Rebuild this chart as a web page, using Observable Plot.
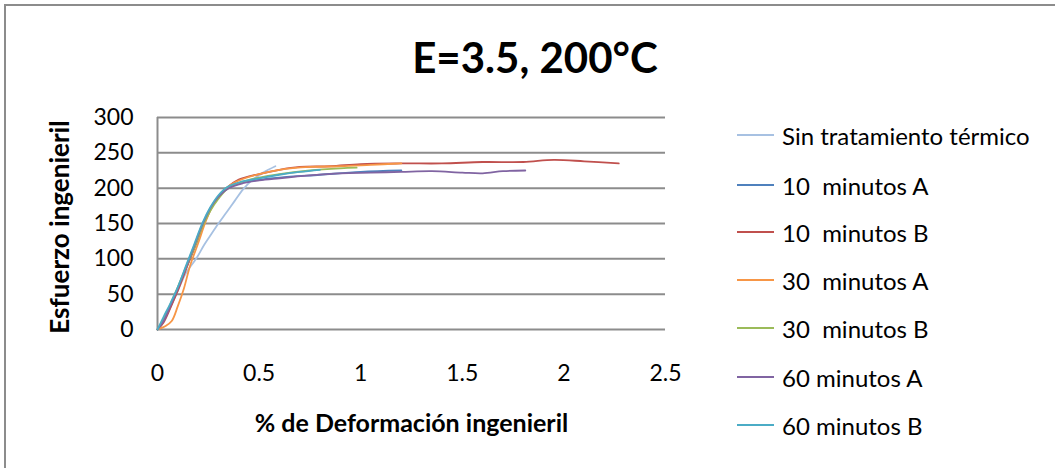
<!DOCTYPE html>
<html>
<head>
<meta charset="utf-8">
<script src="https://cdn.jsdelivr.net/npm/d3@7"></script>
<script src="https://cdn.jsdelivr.net/npm/@observablehq/plot@0.6"></script>
<style>
  html, body { margin: 0; padding: 0; background: #fff; }
  #wrap { position: relative; width: 1055px; height: 468px; overflow: hidden; font-family: Lato, "Open Sans", sans-serif; }
  #frame { position: absolute; left: 4px; top: 4px; width: 1200px; height: 600px; border-left: 2px solid #8c8c8c; border-top: 2px solid #8c8c8c; box-sizing: border-box; }
  #chart { position: absolute; left: 0; top: 0; }
  .title { position: absolute; left: 0; width: 1070px; top: 36px; text-align: center; font-weight: bold; font-size: 42px; color: #000; line-height: 1; }
  .xlab { position: absolute; left: 160px; width: 503px; top: 410px; text-align: center; font-weight: bold; font-size: 25px; line-height: 1; color: #000; }
  .ylab { position: absolute; left: 59px; top: 227px; transform: translate(-50%, -50%) rotate(-90deg); font-weight: bold; font-size: 26px; line-height: 1; white-space: nowrap; color: #000; }
  .leg { position: absolute; left: 737px; height: 30px; display: flex; align-items: center; white-space: pre; font-size: 24px; color: #000; }
  .leg span.sw { display: inline-block; width: 37px; height: 2px; margin-right: 8px; }
</style>
</head>
<body>
<div id="wrap">
  <div id="frame"></div>
  <div id="chart"></div>
  <div class="title">E=3.5, 200°C</div>
  <div class="xlab">% de Deformación ingenieril</div>
  <div class="ylab">Esfuerzo ingenieril</div>
  <div id="legend"></div>
</div>
<script>
// Series names and colours
const seriesNames = ["Sin tratamiento térmico", "10  minutos A", "10  minutos B", "30  minutos A", "30  minutos B", "60 minutos A", "60 minutos B"];
const seriesColors = ["#a7c1e2", "#4f81bd", "#c0504d", "#f79646", "#9bbb59", "#8064a2", "#4bacc6"];

// Each series: [% deformación, esfuerzo]
const sinTratamiento = [[0,0],[0.02,8],[0.06,30],[0.10,55],[0.14,80],[0.19,100],[0.23,120],[0.26,133],[0.30,150],[0.34,166],[0.38,182],[0.42,198],[0.46,210],[0.52,222],[0.58,231]];
const min10A = [[0,0],[0.03,12],[0.06,30],[0.09,50],[0.12,72],[0.16,100],[0.20,128],[0.23,150],[0.27,175],[0.30,188],[0.34,200],[0.40,207],[0.50,212],[0.60,215],[0.80,219],[1.00,223],[1.20,225]];
const min10B = [[0,0],[0.03,10],[0.07,35],[0.10,55],[0.14,85],[0.18,115],[0.22,145],[0.26,170],[0.30,188],[0.34,200],[0.40,212],[0.50,220],[0.60,226],[0.70,230],[0.85,231],[1.00,234],[1.20,235],[1.40,235],[1.60,237],[1.80,237],[1.95,240],[2.10,238],[2.27,235]];
const min30A = [[0,0],[0.04,5],[0.07,12],[0.10,33],[0.13,58],[0.16,90],[0.20,122],[0.24,155],[0.28,180],[0.32,195],[0.36,205],[0.42,213],[0.50,220],[0.60,226],[0.75,230],[0.90,231],[1.05,233],[1.20,235]];
const min30B = [[0,0],[0.03,15],[0.07,40],[0.10,60],[0.14,88],[0.18,115],[0.22,145],[0.26,168],[0.30,185],[0.34,198],[0.40,207],[0.50,215],[0.60,220],[0.75,225],[0.90,228],[0.98,229]];
const min60A = [[0,0],[0.03,12],[0.07,38],[0.10,58],[0.14,88],[0.18,118],[0.22,148],[0.26,172],[0.30,188],[0.35,200],[0.42,207],[0.50,211],[0.60,214],[0.75,218],[0.90,221],[1.05,222],[1.20,223],[1.35,224],[1.50,222],[1.60,221],[1.70,224],[1.81,225]];
const min60B = [[0,0],[0.03,18],[0.06,35],[0.10,60],[0.14,90],[0.18,120],[0.22,150],[0.26,173],[0.30,190],[0.34,201],[0.40,208],[0.50,214],[0.60,219],[0.70,223],[0.80,226]];

const xTicks = [0, 0.5, 1, 1.5, 2, 2.5];
const yTicks = [0, 50, 100, 150, 200, 250, 300];

const seriesData = [sinTratamiento, min10A, min10B, min30A, min30B, min60A, min60B];
const rows = seriesData.flatMap((arr, i) => arr.map(([x, y]) => ({x, y, name: seriesNames[i]})));

const chart = Plot.plot({
  width: 1055,
  height: 468,
  marginLeft: 157,
  marginRight: 390,
  marginTop: 117,
  marginBottom: 139,
  style: {fontFamily: "Lato, 'Open Sans', sans-serif", background: "transparent", color: "#000"},
  x: {domain: [0, 2.5]},
  y: {domain: [0, 300]},
  color: {domain: seriesNames, range: seriesColors},
  marks: [
    Plot.gridY(yTicks, {stroke: "#8c8c8c", strokeOpacity: 1, strokeWidth: 2}),
    Plot.ruleX([0], {stroke: "#8c8c8c", strokeWidth: 2}),
    Plot.line(rows, {x: "x", y: "y", z: "name", stroke: "name", strokeWidth: 1.8, curve: "catmull-rom"}),
    Plot.axisX(xTicks, {tickSize: 0, tickPadding: 35, fontSize: 23, label: null, tickFormat: d => String(d), fill: "#000"}),
    Plot.axisY(yTicks, {tickSize: 0, tickPadding: 24, fontSize: 23, label: null, tickFormat: d => String(d), fill: "#000"})
  ]
});
document.getElementById("chart").appendChild(chart);

const legend = document.getElementById("legend");
const rowCenters = [135, 185, 232, 280, 328, 377, 425];
seriesNames.forEach((n, i) => {
  const d = document.createElement("div");
  d.className = "leg";
  d.style.top = (rowCenters[i] - 15) + "px";
  d.innerHTML = `<span class="sw" style="background:${seriesColors[i]}"></span>${n}`;
  legend.appendChild(d);
});
</script>
</body>
</html>
